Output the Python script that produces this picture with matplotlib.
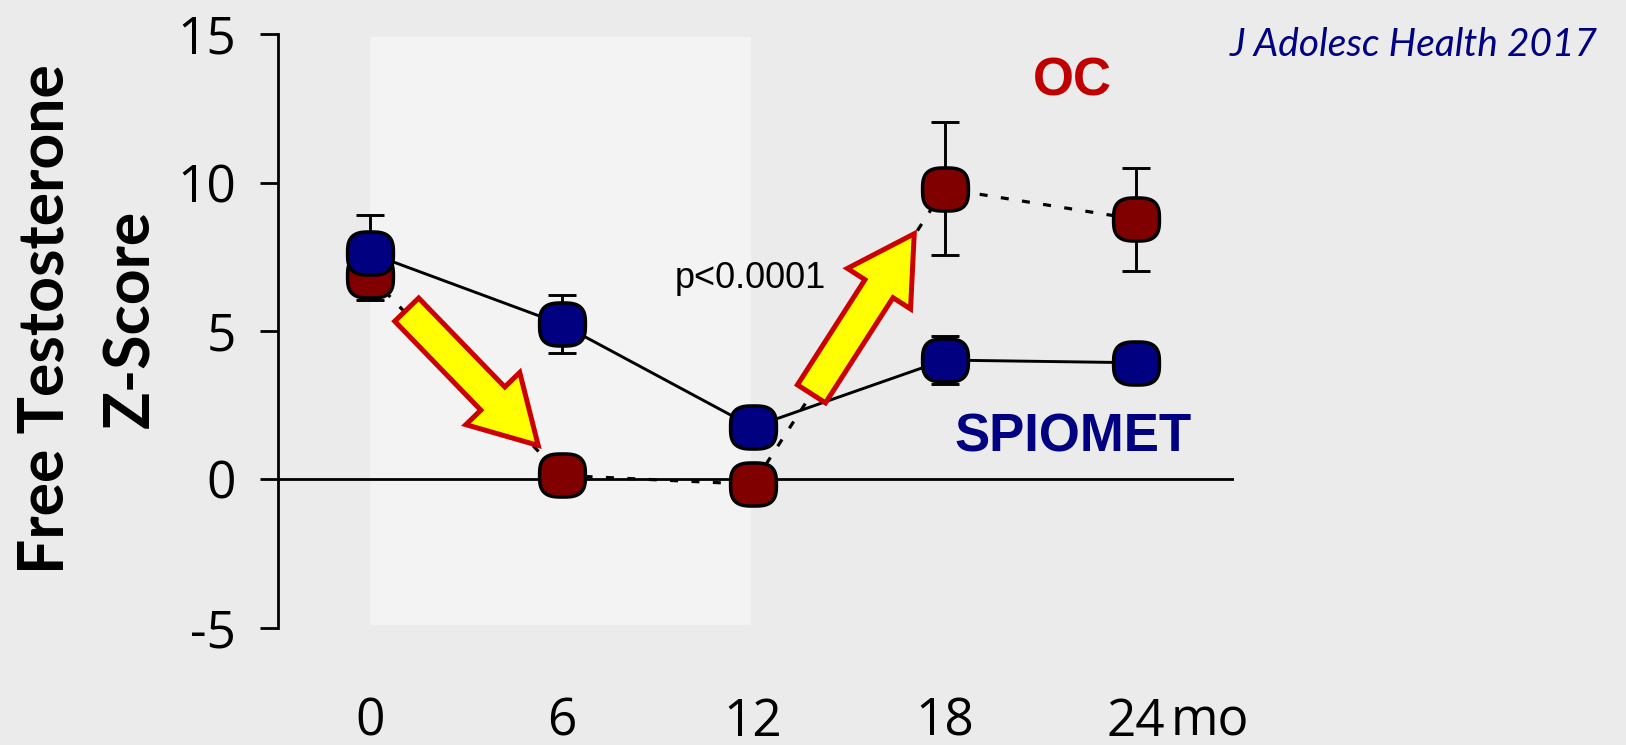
import numpy as np
import matplotlib
matplotlib.use("Agg")
import matplotlib.pyplot as plt
from matplotlib.path import Path
from matplotlib.patches import FancyArrowPatch, Rectangle, ArrowStyle

# ---------------- data ----------------
months = [0, 6, 12, 18, 24]
month_labels = ["0", "6", "12", "18", "24"]
spiomet_mean = [7.62, 5.23, 1.76, 4.02, 3.93]
spiomet_err = [1.30, 0.97, 0.50, 0.80, 0.45]
oc_mean = [6.86, 0.13, -0.17, 9.80, 8.77]
oc_err = [0.80, 0.30, 0.30, 2.25, 1.73]
y_ticks = [-5, 0, 5, 10, 15]
y_tick_labels = ["-5", "0", "5", "10", "15"]
arrow_down = [(1.15, 5.72), (5.27, 1.14)]
arrow_up = [(13.83, 2.88), (17.05, 8.28)]

W, H = 1626, 745
BG = "#ebebeb"
NAVY = "#000080"
MAROON = "#800000"

fig = plt.figure(figsize=(W / 100, H / 100), dpi=100, facecolor=BG)

# axes placement (pixel based)
x_left_px, x_right_px = 278, 1234
x0_px, px_per_x = 370.0, 31.92
y_top_px, y_bot_px = 34.5, 627.5
xlim = ((x_left_px - x0_px) / px_per_x, (x_right_px - x0_px) / px_per_x)
ax = fig.add_axes([x_left_px / W, 1 - y_bot_px / H,
                   (x_right_px - x_left_px) / W, (y_bot_px - y_top_px) / H])
ax.set_facecolor("none")
ax.set_xlim(*xlim)
ax.set_ylim(-5, 15)

for s in ["top", "right", "bottom"]:
    ax.spines[s].set_visible(False)
ax.spines["left"].set_linewidth(2.0)

XPAD = 50
ax.set_yticks(y_ticks)
ax.set_yticklabels(y_tick_labels, fontfamily="Open Sans", fontsize=37)
ax.tick_params(axis="y", length=13, width=2.0, pad=17, direction="out")
ax.set_xticks(months)
ax.set_xticklabels(month_labels, fontfamily="Open Sans", fontsize=37)
ax.tick_params(axis="x", length=0, pad=XPAD)

# shaded treatment period
ax.add_patch(Rectangle((0, -4.93), 11.93, 19.83, facecolor="#f3f3f3",
                       edgecolor="none", zorder=0))

# zero line
ax.axhline(0, color="black", lw=2.0, zorder=2)

# squircle marker
t = np.linspace(0, 2 * np.pi, 120)
c, s = np.cos(t), np.sin(t)
vx = np.sign(c) * np.abs(c) ** (2 / 3)
vy = 0.94 * np.sign(s) * np.abs(s) ** (2 / 3)
squircle = Path(np.column_stack([vx, vy]), closed=True)

# error bars
ax.errorbar(months, oc_mean, yerr=oc_err, fmt="none", ecolor="black",
            elinewidth=2.1, capsize=10, capthick=2.1, zorder=3)
ax.errorbar(months, spiomet_mean, yerr=spiomet_err, fmt="none", ecolor="black",
            elinewidth=2.1, capsize=10, capthick=2.1, zorder=3)

# lines
ax.plot(months, oc_mean, color="black", lw=2.3, linestyle=(0, (2.5, 4.2)),
        zorder=3)
ax.plot(months, spiomet_mean, color="black", lw=2.1, linestyle="-", zorder=3)

# arrows
for (p0, p1) in [arrow_down, arrow_up]:
    arr = FancyArrowPatch(p0, p1,
                          arrowstyle=ArrowStyle.Simple(head_length=47,
                                                       head_width=54,
                                                       tail_width=24),
                          mutation_scale=1, shrinkA=0, shrinkB=0,
                          facecolor="#ffff00", edgecolor="#cc0000",
                          lw=3.6, joinstyle="miter", zorder=4)
    ax.add_patch(arr)

# markers
ax.plot(months, oc_mean, linestyle="none", marker=squircle, markersize=33,
        markerfacecolor=MAROON, markeredgecolor="black", markeredgewidth=2.5,
        zorder=5)
ax.plot(months, spiomet_mean, linestyle="none", marker=squircle, markersize=33,
        markerfacecolor=NAVY, markeredgecolor="black", markeredgewidth=2.5,
        zorder=6)

# annotations
ax.text(11.92, 6.46, "p<0.0001", fontfamily="Liberation Sans", fontsize=26,
        ha="center", va="baseline", color="black", zorder=7)
ax.text(21.99, 12.93, "OC", fontfamily="Liberation Sans", fontweight="bold",
        fontsize=38, ha="center", va="baseline", color="#c00000", zorder=7)
ax.text(22.02, 0.93, "SPIOMET", fontfamily="Liberation Sans", fontweight="bold",
        fontsize=38, ha="center", va="baseline", color=NAVY, zorder=7)

# unit after last tick, aligned with the tick labels
mo_top_px = y_bot_px + XPAD * 100 / 72
fig.text(1171 / W, 1 - mo_top_px / H, "mo", fontfamily="Open Sans",
         fontsize=37, ha="left", va="top")

# y-axis title (two lines)
fig.text(45.5 / W, 1 - 319 / H, "Free Testosterone", rotation=90,
         fontfamily="Lato", fontweight="bold", fontsize=45,
         ha="center", va="center")
fig.text(131 / W, 1 - 319 / H, "Z-Score", rotation=90,
         fontfamily="Lato", fontweight="bold", fontsize=45,
         ha="center", va="center")

# citation
fig.text(1598 / W, 1 - 56 / H, "J Adolesc Health 2017", fontfamily="Lato",
         fontstyle="italic", fontsize=28, color=NAVY, ha="right", va="baseline")

fig.savefig("out.png", dpi=100, facecolor=BG)
